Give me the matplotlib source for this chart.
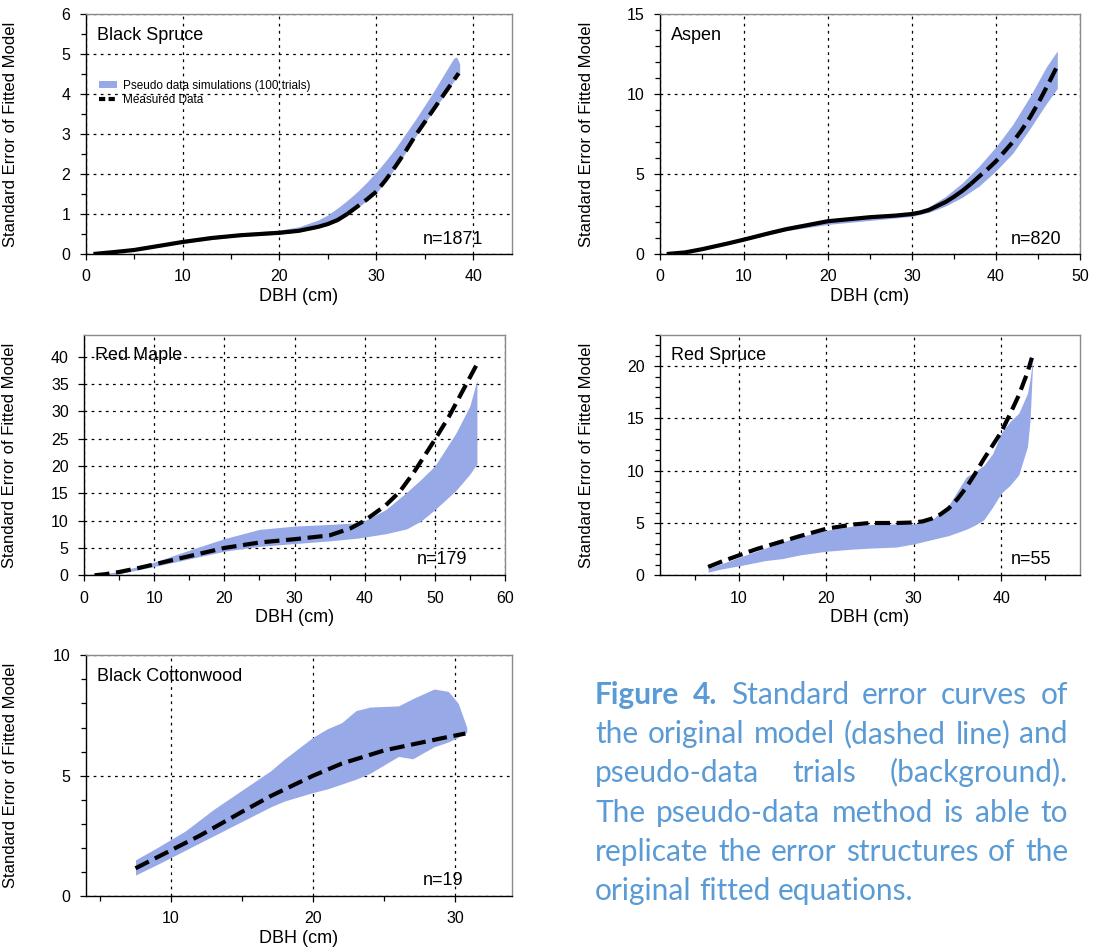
import matplotlib
matplotlib.use("Agg")
import matplotlib.pyplot as plt
from matplotlib.patches import Patch
from matplotlib.lines import Line2D
from matplotlib.ticker import MultipleLocator

# ---------------- data ----------------
species = ["Black Spruce", "Aspen", "Red Maple", "Red Spruce", "Black Cottonwood"]
n_labels = ["n=1871", "n=820", "n=179", "n=55", "n=19"]

bs_line_x = [0.8, 3, 5, 8, 10, 13, 16, 20, 22, 24, 25, 26, 27, 28, 29, 30, 31, 32, 33, 34, 35, 36, 37, 38.5]
bs_line_y = [0.0, 0.05, 0.1, 0.22, 0.3, 0.4, 0.47, 0.53, 0.58, 0.68, 0.75, 0.85, 1.0, 1.18, 1.36, 1.56, 1.86, 2.2, 2.56, 2.95, 3.3, 3.65, 4.0, 4.52]
bs_band_x = [0.8, 5, 10, 15, 20, 22, 24, 25, 26, 27, 28, 29, 30, 31, 32, 33, 34, 35, 36, 37, 37.5, 38.0, 38.3, 38.6]
bs_upper = [0.0, 0.12, 0.36, 0.5, 0.6, 0.68, 0.85, 0.98, 1.15, 1.34, 1.55, 1.79, 2.05, 2.34, 2.65, 3.0, 3.35, 3.72, 4.1, 4.5, 4.7, 4.9, 4.92, 4.75]
bs_lower = [0.0, 0.08, 0.27, 0.42, 0.5, 0.55, 0.65, 0.72, 0.82, 0.97, 1.15, 1.33, 1.53, 1.83, 2.17, 2.53, 2.92, 3.27, 3.62, 3.97, 4.15, 4.32, 4.42, 4.5]

as_line_x = [0.8, 3, 5, 8, 10, 13, 15, 18, 20, 23, 25, 28, 30, 31, 32, 33, 34, 35, 36, 37, 38, 39, 40, 41, 42, 43, 44, 45, 46, 47.3]
as_line_y = [0.0, 0.1, 0.3, 0.65, 0.9, 1.3, 1.55, 1.85, 2.05, 2.2, 2.3, 2.4, 2.5, 2.6, 2.75, 3.0, 3.25, 3.58, 3.95, 4.38, 4.85, 5.3, 5.8, 6.4, 7.0, 7.7, 8.5, 9.4, 10.4, 11.75]
as_band_x = [0.8, 5, 10, 15, 20, 25, 30, 32, 34, 36, 38, 40, 42, 44, 46, 47.3]
as_upper = [0.0, 0.3, 0.92, 1.6, 2.1, 2.35, 2.55, 2.95, 3.6, 4.45, 5.5, 6.7, 8.1, 9.8, 11.7, 12.7]
as_lower = [0.0, 0.28, 0.85, 1.45, 1.85, 2.1, 2.35, 2.6, 3.0, 3.55, 4.25, 5.2, 6.3, 7.8, 9.4, 10.35]

rm_line_x = [1.5, 3, 5, 8, 10, 15, 20, 25, 30, 35, 38, 40, 43, 45, 47, 50, 52, 54, 56]
rm_line_y = [0.0, 0.2, 0.6, 1.4, 2.0, 3.5, 5.0, 6.0, 6.6, 7.3, 8.6, 10.0, 12.8, 15.3, 18.8, 24.8, 29.0, 33.8, 38.6]
rm_band_x = [1.5, 5, 10, 15, 20, 25, 30, 35, 39, 40, 43, 46, 48, 50, 53, 55, 56]
rm_upper = [0.0, 0.7, 2.4, 4.6, 6.7, 8.4, 9.0, 9.3, 9.6, 10.0, 12.0, 15.2, 17.5, 20.0, 26.0, 31.0, 35.7]
rm_lower = [0.0, 0.3, 1.6, 3.0, 4.4, 5.3, 5.8, 6.3, 6.8, 7.0, 7.6, 8.5, 9.9, 12.0, 15.5, 18.5, 20.4]

rs_line_x = [6.5, 8, 10, 12, 14, 17, 20, 23, 25, 28, 30, 31, 32, 33, 34, 35, 36, 37, 38, 39, 40, 41, 42, 43, 43.5]
rs_line_y = [0.8, 1.3, 1.9, 2.5, 3.0, 3.75, 4.45, 4.85, 5.0, 5.0, 5.05, 5.15, 5.4, 5.8, 6.4, 7.3, 8.4, 9.7, 11.1, 12.4, 13.7, 15.4, 17.2, 19.4, 20.8]
rs_band_x = [6.5, 8, 10, 13, 15, 17, 20, 23, 25, 28, 30, 32, 34, 36, 37, 38, 39, 40, 41, 42, 43, 43.3, 43.6]
rs_upper = [0.65, 1.1, 1.7, 2.6, 3.2, 3.7, 4.3, 4.7, 4.85, 4.9, 4.9, 5.25, 6.7, 9.4, 9.9, 10.5, 11.6, 13.6, 14.7, 15.5, 17.4, 18.8, 20.8]
rs_lower = [0.3, 0.6, 0.9, 1.4, 1.6, 1.95, 2.3, 2.5, 2.6, 2.7, 3.0, 3.4, 3.8, 4.4, 4.8, 5.3, 6.5, 7.85, 8.6, 9.6, 12.3, 14.9, 20.5]

bc_line_x = [7.5, 10, 12, 15, 17, 20, 22, 25, 27, 29, 30.7]
bc_line_y = [1.15, 1.9, 2.5, 3.5, 4.15, 5.0, 5.5, 6.05, 6.3, 6.55, 6.75]
bc_band_x = [7.5, 9, 11, 13, 15, 17, 18, 20, 21, 22, 23, 24, 26, 27, 28.5, 29.5, 30.2, 30.8]
bc_upper = [1.5, 2.0, 2.7, 3.6, 4.4, 5.2, 5.7, 6.6, 6.95, 7.2, 7.7, 7.85, 7.9, 8.2, 8.6, 8.5, 8.0, 7.0]
bc_lower = [0.87, 1.3, 1.9, 2.5, 3.1, 3.7, 3.95, 4.3, 4.45, 4.65, 4.85, 5.1, 5.8, 5.7, 6.2, 6.4, 6.6, 6.8]

legend_labels = ["Pseudo data simulations (100 trials)", "Measured Data"]
caption_lines = [
    [("Figure", "bold"), ("4.", "bold"), ("Standard", "normal"), ("error", "normal"),
     ("curves", "normal"), ("of", "normal")],
    "the original model (dashed line) and",
    "pseudo-data trials (background).",
    "The pseudo-data method is able to",
    "replicate the error structures of the",
    "original fitted equations.",
]

# ---------------- layout / style ----------------
W, H = 1101, 948
fig = plt.figure(figsize=(W / 100, H / 100), dpi=100)
plt.rcParams['font.family'] = ['Liberation Sans', 'DejaVu Sans']

band_color = "#98a9e8"

panels = [
    dict(data=(bs_line_x, bs_line_y, bs_band_x, bs_upper, bs_lower), rect=(85.7, 14, 512, 254),
         xlim=(0, 44), ylim=(0, 6), xmaj=10, xmin=5, ymaj=1, ymin=0.5, solid_until=27.0, npos=(0.932, 0.062)),
    dict(data=(as_line_x, as_line_y, as_band_x, as_upper, as_lower), rect=(660, 14, 1080, 254),
         xlim=(0, 50), ylim=(0, 15), xmaj=10, xmin=5, ymaj=5, ymin=1, solid_until=37.0, npos=(0.956, 0.062)),
    dict(data=(rm_line_x, rm_line_y, rm_band_x, rm_upper, rm_lower), rect=(84, 334.7, 505, 575.3),
         xlim=(0, 60), ylim=(0, 44), xmaj=10, xmin=5, ymaj=5, ymin=None, solid_until=None, npos=(0.911, 0.066)),
    dict(data=(rs_line_x, rs_line_y, rs_band_x, rs_upper, rs_lower), rect=(660, 334.7, 1080, 575.3),
         xlim=(1, 49), ylim=(0, 23), xmaj=10, xmin=5, ymaj=5, ymin=1, solid_until=None, npos=(0.931, 0.066)),
    dict(data=(bc_line_x, bc_line_y, bc_band_x, bc_upper, bc_lower), rect=(85.7, 655.3, 512.3, 896),
         xlim=(4, 34), ylim=(0, 10), xmaj=10, xmin=5, ymaj=5, ymin=1, solid_until=None, npos=(0.885, 0.066)),
]

dash = (3.6, 1.6)
for i, p in enumerate(panels):
    l, t, r, b = p["rect"]
    ax = fig.add_axes([l / W, 1 - b / H, (r - l) / W, (b - t) / H])
    lx, ly, bx, bu, bl = p["data"]
    ax.fill_between(bx, bl, bu, color=band_color, lw=0, zorder=2)
    su = p["solid_until"]
    if su is None:
        ax.plot(lx, ly, color="black", lw=3.0, dashes=dash, zorder=3, solid_joinstyle='round')
    else:
        xs = [x for x in lx if x <= su]
        ys = ly[:len(xs)]
        ax.plot(xs, ys, color="black", lw=3.0, zorder=3, solid_capstyle='butt', solid_joinstyle='round')
        ax.plot(lx[len(xs) - 1:], ly[len(xs) - 1:], color="black", lw=3.0, dashes=dash, zorder=3)
    ax.set_xlim(*p["xlim"])
    ax.set_ylim(*p["ylim"])
    ax.xaxis.set_major_locator(MultipleLocator(p["xmaj"]))
    ax.xaxis.set_minor_locator(MultipleLocator(p["xmin"]))
    ax.yaxis.set_major_locator(MultipleLocator(p["ymaj"]))
    if p["ymin"]:
        ax.yaxis.set_minor_locator(MultipleLocator(p["ymin"]))
    ax.grid(True, which="major", color="black", lw=0.9, linestyle=(0, (2.2, 3.5)), zorder=1)
    ax.tick_params(which="major", direction="out", length=4.5, width=0.9, labelsize=11.5, pad=6.5,
                   top=False, right=False)
    ax.tick_params(which="minor", direction="out", length=3.5, width=0.9, top=False, right=False)
    for s in ("top", "right"):
        ax.spines[s].set_color("#8a8a8a")
        ax.spines[s].set_linewidth(1.0)
    for s in ("left", "bottom"):
        ax.spines[s].set_color("black")
        ax.spines[s].set_linewidth(1.0)
    ax.set_xlabel("DBH (cm)", fontsize=13)
    ax.xaxis.set_label_coords(0.5, -0.142)
    ax.set_ylabel("Standard Error of Fitted Model", fontsize=12)
    ax.yaxis.set_label_coords(-0.158, 0.5)
    ax.text(0.026, 0.912, species[i], transform=ax.transAxes, fontsize=13, va="center", ha="left")
    ax.text(p["npos"][0], p["npos"][1], n_labels[i], transform=ax.transAxes, fontsize=13,
            va="center", ha="right")
    if i == 0:
        handles = [Patch(facecolor=band_color, edgecolor="none"),
                   Line2D([0], [0], color="black", lw=3.0, dashes=(1.5, 0.8))]
        ax.legend(handles, legend_labels, loc="upper left", bbox_to_anchor=(0.015, 0.755),
                  frameon=False, fontsize=8.5, handlelength=1.5, handleheight=0.6,
                  handletextpad=0.5, labelspacing=0.15, borderpad=0.1)

# ---------------- caption (justified) ----------------
cap_color = "#5b9bd5"
cap_font = ["Lato", "DejaVu Sans"]
cap_size = 21.5
x0, x1 = 595.0, 1068.0
baselines = [704, 743.2, 782.4, 821.6, 860.8, 900]
renderer = fig.canvas.get_renderer()

def measure(s, weight):
    t = fig.text(0, 0, s, fontsize=cap_size, family=cap_font, fontweight=weight)
    w = t.get_window_extent(renderer).width
    t.remove()
    return w

space_w = measure("n n", "normal") - measure("nn", "normal")
for k, line in enumerate(caption_lines):
    words = line if isinstance(line, list) else [(w, "normal") for w in line.split()]
    widths = [measure(w, wt) for w, wt in words]
    last = (k == len(caption_lines) - 1)
    gap = space_w if last else (x1 - x0 - sum(widths)) / (len(words) - 1)
    x = x0
    for (w, wt), ww in zip(words, widths):
        fig.text(x / W, 1 - baselines[k] / H, w, fontsize=cap_size, family=cap_font,
                 fontweight=wt, color=cap_color, ha="left", va="baseline")
        x += ww + gap

fig.savefig("out.png", dpi=100)
